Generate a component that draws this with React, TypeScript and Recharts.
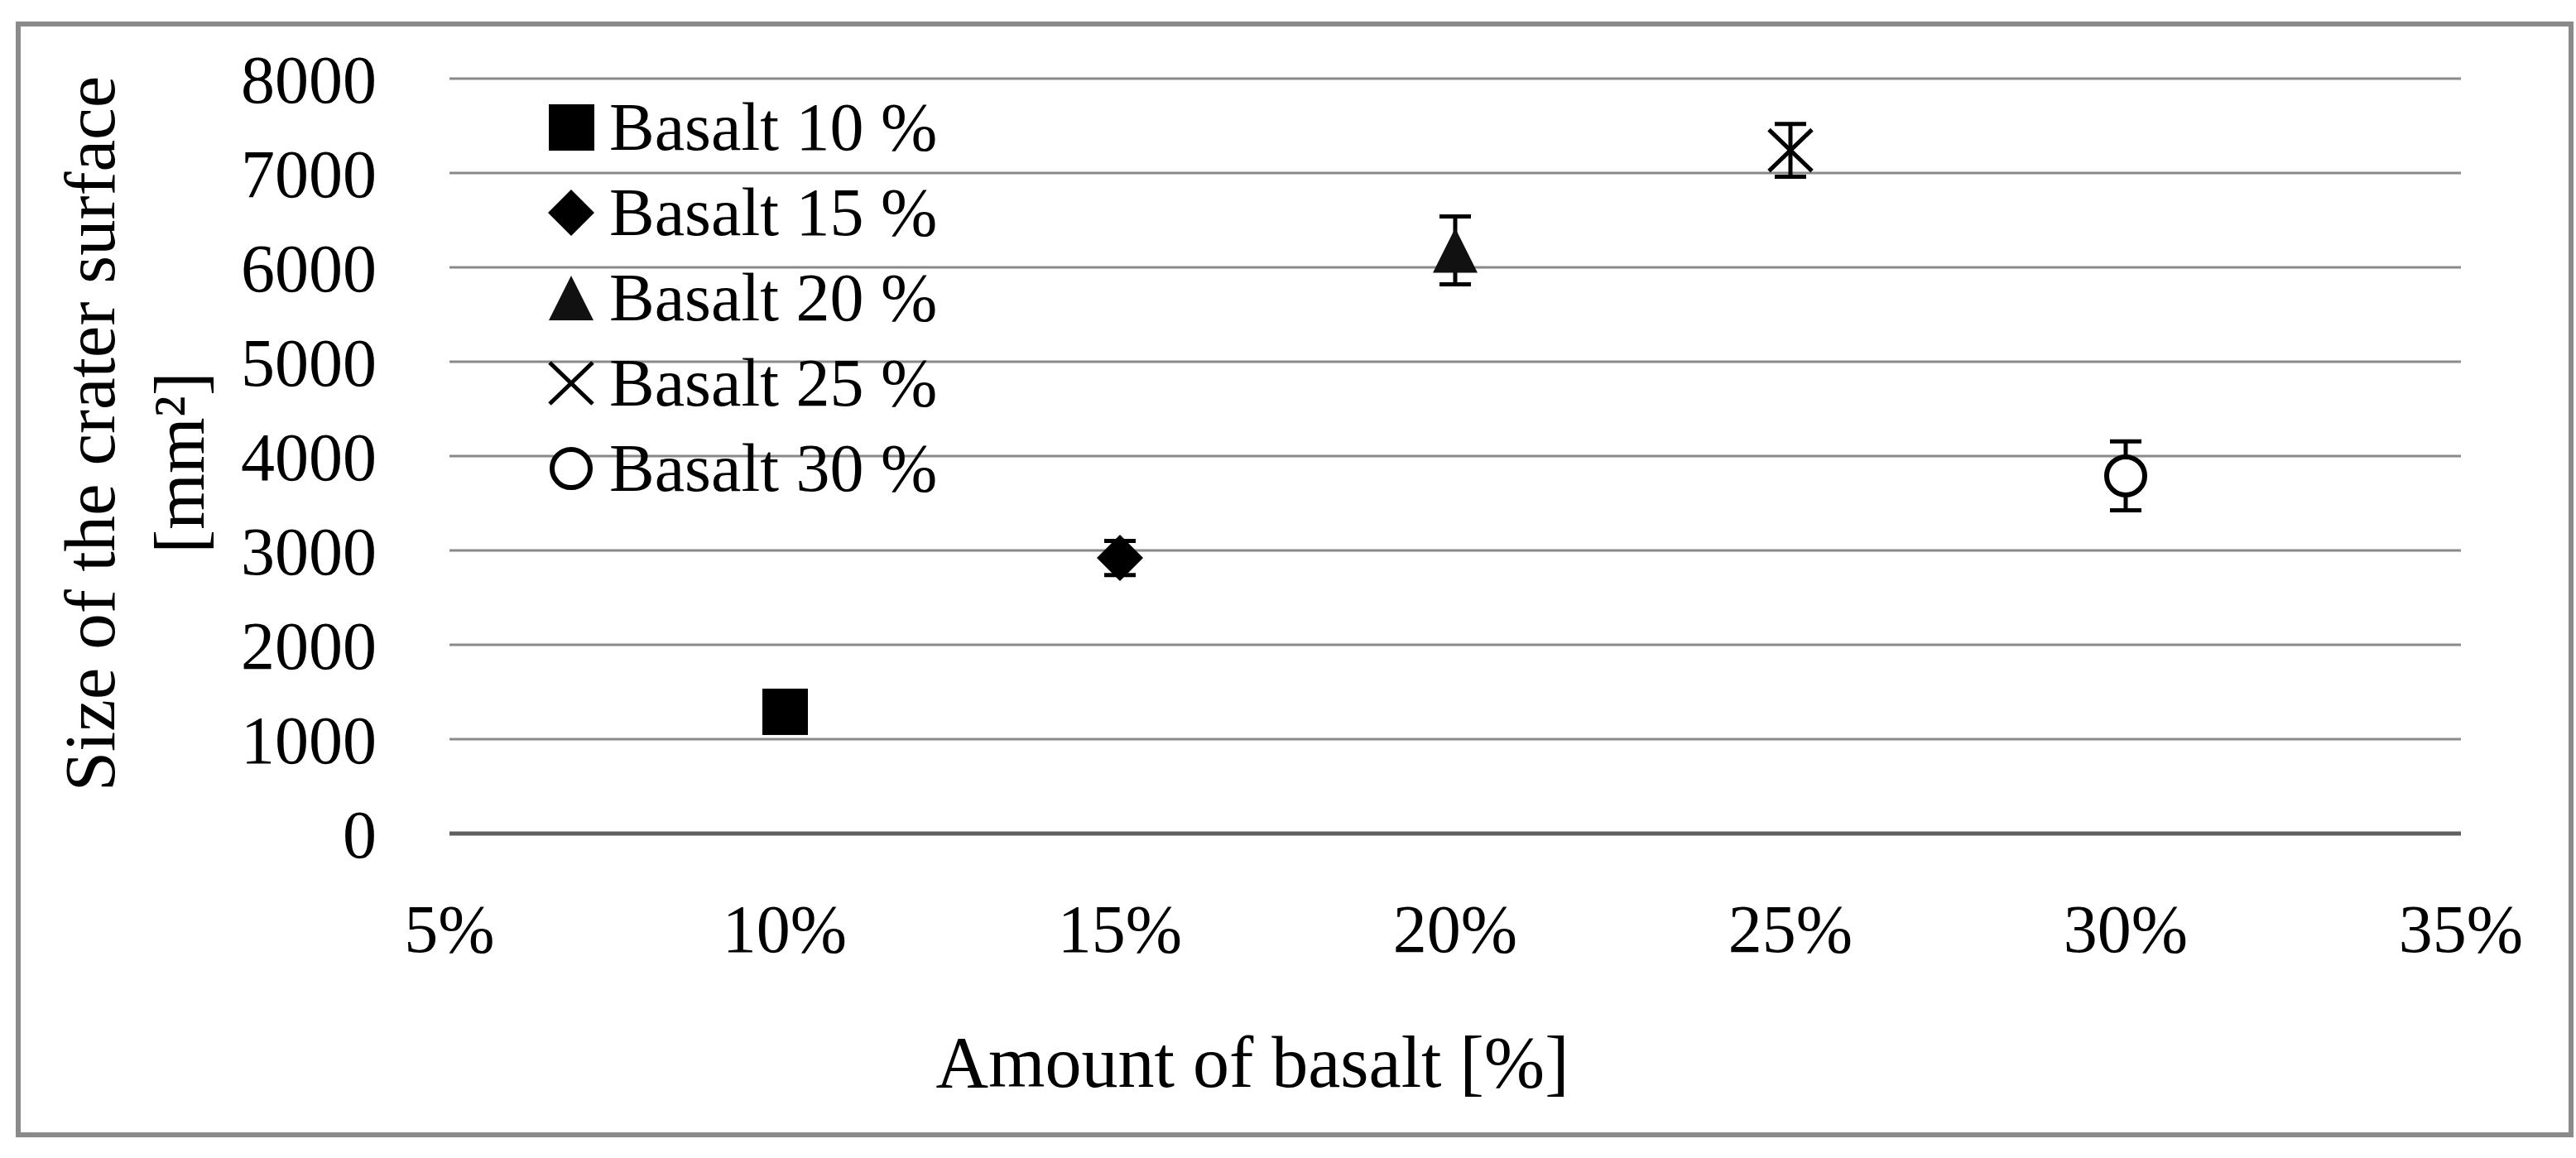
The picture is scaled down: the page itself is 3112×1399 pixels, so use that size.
import {
  CartesianGrid,
  ErrorBar,
  Legend,
  Scatter,
  ScatterChart,
  XAxis,
  YAxis,
} from "recharts";

const amounts = [10, 15, 20, 25, 30];
const craterMeans = [1290, 2920, 6180, 7240, 3790];
const craterErrors = [150, 180, 360, 280, 365];
const seriesNames = [
  "Basalt 10 %",
  "Basalt 15 %",
  "Basalt 20 %",
  "Basalt 25 %",
  "Basalt 30 %",
];
const markerKinds = ["square", "diamond", "triangle", "cross", "circle"];
const xTicks = [5, 10, 15, 20, 25, 30, 35];
const yTicks = [0, 1000, 2000, 3000, 4000, 5000, 6000, 7000, 8000];

const FONT = '"Liberation Serif", "Times New Roman", serif';
const WIDTH = 3112;
const HEIGHT = 1399;

function Marker({ kind, cx, cy }: { kind: string; cx: number; cy: number }) {
  switch (kind) {
    case "square":
      return <rect x={cx - 27} y={cy - 28} width={55} height={56} fill="#000" />;
    case "diamond":
      return (
        <polygon
          points={`${cx},${cy - 28} ${cx + 28},${cy} ${cx},${cy + 28} ${cx - 28},${cy}`}
          fill="#000"
        />
      );
    case "triangle":
      return (
        <polygon
          points={`${cx},${cy - 27} ${cx + 27},${cy + 27} ${cx - 27},${cy + 27}`}
          fill="#111"
        />
      );
    case "cross":
      return (
        <g stroke="#000" strokeWidth={5}>
          <line x1={cx - 26} y1={cy - 25} x2={cx + 26} y2={cy + 25} />
          <line x1={cx - 26} y1={cy + 25} x2={cx + 26} y2={cy - 25} />
        </g>
      );
    default:
      return <circle cx={cx} cy={cy} r={23} fill="#fff" stroke="#000" strokeWidth={6} />;
  }
}

function CraterLegend() {
  return (
    <div style={{ fontFamily: FONT, fontSize: 82, color: "#000" }}>
      {seriesNames.map((name, i) => (
        <div
          key={name}
          style={{ display: "flex", alignItems: "center", height: 103, lineHeight: "103px" }}
        >
          <svg width={60} height={60} style={{ marginRight: 16 }}>
            <Marker kind={markerKinds[i]} cx={30} cy={30} />
          </svg>
          <span style={{ whiteSpace: "pre" }}>{name}</span>
        </div>
      ))}
    </div>
  );
}

function YTitle({ viewBox }: any) {
  const mid = viewBox.y + viewBox.height / 2;
  const y1 = mid - 27;
  const y2 = mid + 8;
  return (
    <g fontFamily={FONT} fontSize={87} fill="#000">
      <text x={138} y={y1} textAnchor="middle" transform={`rotate(-90, 138, ${y1})`}>
        Size of the crater surface
      </text>
      <text x={246} y={y2} textAnchor="middle" transform={`rotate(-90, 246, ${y2})`}>
        [mm²]
      </text>
    </g>
  );
}

function XTitle({ viewBox }: any) {
  const cx = viewBox.x + viewBox.width / 2 - 245;
  return (
    <text x={cx} y={1313} textAnchor="middle" fontFamily={FONT} fontSize={88} fill="#000">
      Amount of basalt [%]
    </text>
  );
}

export default function App() {
  return (
    <div style={{ position: "absolute", left: 0, top: 0, width: WIDTH, height: HEIGHT, background: "#fff" }}>
      <div
        style={{
          position: "absolute",
          left: 19,
          top: 26,
          width: 3090,
          height: 1348,
          border: "6px solid #8a8a8a",
          boxSizing: "border-box",
        }}
      />
      <div style={{ position: "absolute", left: 0, top: 0 }}>
        <ScatterChart
          width={WIDTH}
          height={HEIGHT}
          margin={{ top: 95, right: 139, bottom: 92, left: 0 }}
          style={{ fontFamily: FONT }}
        >
          <CartesianGrid vertical={false} stroke="#8a8a8a" strokeWidth={3} />
          <XAxis
            type="number"
            dataKey="x"
            domain={[5, 35]}
            ticks={xTicks}
            interval={0}
            height={300}
            tickFormatter={(v: number) => `${v}%`}
            tick={{ fontSize: 82, fill: "#000", fontFamily: FONT }}
            tickLine={false}
            tickSize={0}
            tickMargin={85}
            axisLine={{ stroke: "#5f5f5f", strokeWidth: 5 }}
            label={{ content: XTitle }}
          />
          <YAxis
            type="number"
            dataKey="y"
            domain={[0, 8000]}
            ticks={yTicks}
            interval={0}
            width={543}
            tick={{ fontSize: 82, fill: "#000", fontFamily: FONT }}
            tickLine={false}
            tickSize={0}
            tickMargin={88}
            axisLine={false}
            label={{ content: YTitle }}
          />
          <Legend
            layout="vertical"
            align="center"
            verticalAlign="middle"
            content={() => <CraterLegend />}
            wrapperStyle={{ position: "absolute", left: 660, top: 102, width: "auto", height: "auto" }}
          />
          {amounts.map((amount, i) => (
            <Scatter
              key={seriesNames[i]}
              name={seriesNames[i]}
              data={[{ x: amount, y: craterMeans[i], err: craterErrors[i] }]}
              isAnimationActive={false}
              shape={(props: any) => <Marker kind={markerKinds[i]} cx={props.cx} cy={props.cy} />}
            >
              <ErrorBar
                dataKey="err"
                direction="y"
                width={19}
                stroke="#000"
                strokeWidth={5}
                isAnimationActive={false}
              />
            </Scatter>
          ))}
        </ScatterChart>
      </div>
    </div>
  );
}
